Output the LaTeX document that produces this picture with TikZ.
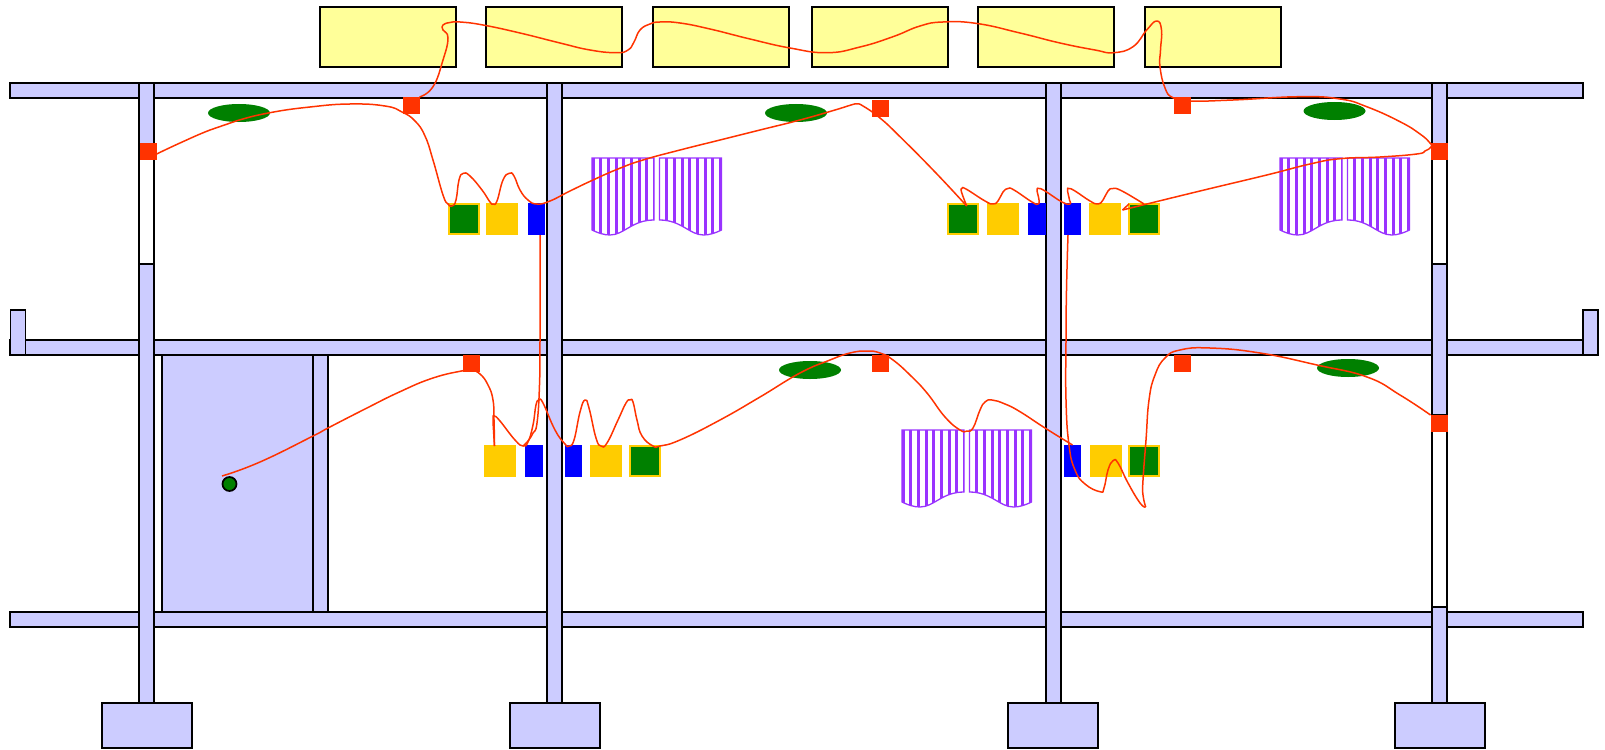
\documentclass[tikz,border=0pt]{standalone}
\usepackage{amsmath}
\usepackage{tikz}
\usetikzlibrary{shapes.geometric}
\definecolor{beamblue}{HTML}{CCCCFF}
\definecolor{panelyellow}{HTML}{FFFF99}
\definecolor{boxred}{HTML}{FF3300}
\definecolor{boxgold}{HTML}{FFCC00}
\definecolor{boxgreen}{HTML}{008000}
\definecolor{curtainviolet}{HTML}{9933FF}

\begin{document}
\begin{tikzpicture}[x=0.02cm, y=-0.02cm,
	every node/.style={rectangle, inner sep=0pt, outer sep=0pt},
	dims/.style 2 args={minimum width=#1*0.02cm, minimum height=#2*0.02cm},
	wall/.style={draw=black, line width=0.04cm, fill=beamblue},
	gap/.style={draw=black, line width=0.04cm, fill=white},
	panel/.style={draw=black, line width=0.04cm, fill=panelyellow, dims={136}{60}},
	redbox/.style={fill=boxred, dims={17}{17}},
	goldbox/.style={fill=boxgold, dims={32}{32}},
	bluebox/.style={fill=blue, dims={17.5}{32}},
	greenbox/.style={draw=boxgold, line width=0.04cm, fill=boxgreen, dims={30}{30}},
	lamp/.style={ellipse, fill=boxgreen, dims={62}{18}},
	cable/.style={draw=boxred, line width=0.03cm, line join=round, smooth, tension=0.8}]
	\useasboundingbox (0,0) rectangle (1605,750);
	
	\node[panel] (panel1) at (388,37.5){};
	\node[panel] (panel2) at (554,37.5){};
	\node[panel] (panel3) at (720.5,37.5){};
	\node[panel] (panel4) at (880,37.5){};
	\node[panel] (panel5) at (1046,37.5){};
	\node[panel] (panel6) at (1212.5,37.5){};
	
	\node[wall, dims={1573}{15}] (roof) at (796.5,90.5){};
	\node[wall, dims={1573}{15}] (floor) at (796.5,347.5){};
	\node[wall, dims={1573}{15}] (ground) at (796.5,619.5){};
	\node[wall, dims={15}{45}] (stubl) at (18,332.5){};
	\node[wall, dims={15}{45}] (stubr) at (1590.5,332.5){};
	
	\node[wall, dims={151}{257}] (stairs) at (237,483.5){};
	\node[wall, dims={15}{257}] (stairwall) at (320.5,483.5){};
	
	\node[wall, dims={15}{620}] (col1) at (146,393){};
	\node[wall, dims={15}{620}] (col2) at (554.5,393){};
	\node[wall, dims={15}{620}] (col3) at (1053.5,393){};
	\node[wall, dims={15}{620}] (col4) at (1439.5,393){};
	
	\node[gap, dims={15}{113}] (gap1) at (146,207.5){};
	\node[gap, dims={15}{113}] (gap2) at (1439.5,207.5){};
	\node[gap, dims={15}{192}] (gap3) at (1439.5,511){};
	
	\node[wall, dims={90}{45}] (foot1) at (146.5,725.5){};
	\node[wall, dims={90}{45}] (foot2) at (555,725.5){};
	\node[wall, dims={90}{45}] (foot3) at (1053,725.5){};
	\node[wall, dims={90}{45}] (foot4) at (1439.5,725.5){};
	
	\foreach \cx/\cy in {592/158, 1280/158, 902/430}{
		\foreach \side in {0,1}{
			\begin{scope}[shift={(\cx+\side*129.5,\cy)}, xscale=1-2*\side]
				\begin{scope}
					\clip (0,0) -- (0,72) .. controls (6,75) and (12,77) .. (18,77) .. controls (32,77) and (40,62) .. (62,62) -- (62,0) -- cycle;
					\foreach \i in {0,...,8}
						\fill[curtainviolet] (\i*7.7-0.5,0) rectangle +(3,80);
				\end{scope}
				\draw[curtainviolet, line width=0.026cm] (0,0) -- (0,72) .. controls (6,75) and (12,77) .. (18,77) .. controls (32,77) and (40,62) .. (62,62) -- (62,0) -- cycle;
			\end{scope}
		}
	}
	
	\node[lamp] (lamp1) at (239,113){};
	\node[lamp] (lamp2) at (796,113){};
	\node[lamp] (lamp3) at (1334.5,111){};
	\node[lamp] (lamp4) at (810,370){};
	\node[lamp] (lamp5) at (1348,368){};
	
	\node[greenbox] (tgreen1) at (464,219){};
	\node[goldbox] (tgold1) at (502,219){};
	\node[bluebox] (tblue1) at (536.5,219){};
	\node[greenbox] (tgreen2) at (963,219){};
	\node[goldbox] (tgold2) at (1002.5,219){};
	\node[bluebox] (tblue2) at (1037,219){};
	\node[bluebox] (tblue3) at (1072.5,219){};
	\node[goldbox] (tgold3) at (1105,219){};
	\node[greenbox] (tgreen3) at (1144,219){};
	
	\node[goldbox] (lgold1) at (500,461){};
	\node[bluebox] (lblue1) at (534,461){};
	\node[bluebox] (lblue2) at (573.5,461){};
	\node[goldbox] (lgold2) at (606,461){};
	\node[greenbox] (lgreen1) at (645,461){};
	\node[bluebox] (lblue3) at (1072.5,461){};
	\node[goldbox] (lgold3) at (1106,461){};
	\node[greenbox] (lgreen2) at (1144,461){};
	
	\node[circle, draw=black, line width=0.034cm, fill=boxgreen, dims={14}{14}] (dot) at (229.5,484){};
	
	\node[redbox] (red1) at (411,105.5){};
	\node[redbox] (red2) at (880.5,108.5){};
	\node[redbox] (red3) at (1182,106){};
	\node[redbox] (red4) at (148,151){};
	\node[redbox] (red5) at (1439,151){};
	\node[redbox] (red6) at (471.5,363){};
	\node[redbox] (red7) at (880,363){};
	\node[redbox] (red8) at (1182,363){};
	\node[redbox] (red9) at (1439,423.5){};
	
	\coordinate (tip1) at (966.7,206);
	\coordinate (tip2) at (1122.5,210);
	\coordinate (tip3) at (1145.7,507);
	\coordinate (tip4) at (494.5,446);
	\coordinate (start) at (222,476);
	\coordinate (riser1) at (540,235);
	\coordinate (riser2) at (1068,235);
	
	\draw[cable] plot coordinates {(red4.-20) (180,143) (210,130) (237,120.7) (270,112.7) (310,107) (350,104) (385,106) (402,112) (415,121) (425,136) (433,160) (443,195) (448,204) (452,206) (456,200) (459,180) (463.3,173.3) (470,176) (482,190) (490,202) (493.3,204) (497,201) (503,180) (509.3,173.3) (514,176) (520,190) (528,200) (537,204) (550,201) (570,191) (593,180) (618,169) (643,160) (680,150) (720,140) (760,130) (800,120) (835,110) (851,105) (857,104) (863,106) (880,118) (900,136.7) (935,172) (tip1)};
	\draw[cable] plot coordinates {(tip1) (961.5,192) (962,188.5) (966,189) (985,201) (993,204) (998,201) (1003,192) (1008,188.5) (1014,190) (1032,202) (1038,204) (1039,200) (1037,190) (1039,188.5) (1045,191) (1062,202) (1070,204) (1069.5,200) (1067.5,190) (1069,188.5) (1075,191) (1090,201) (1098,204) (1103,200) (1108,191) (1113,188.5) (1122,191) (tgreen3.north)};
	\draw[cable] plot coordinates {(red1.north east) (433,86.7) (443,60) (448,38) (443,30) (443,25) (450,22.5) (460,22) (483,25) (520,33) (560,43) (590,50) (616,52.7) (628,50) (634,42) (640,30) (650,24) (660,22) (680,23) (710,29) (750,39) (790,48) (827,52.7) (860,47) (893,36.7) (920,26) (943,22) (977,23.5) (1020,33) (1060,43) (1095,50) (1113.3,52.7) (1133,46.7) (1146.7,30) (1156.7,21) (1161.5,30) (1160.5,50) (1160,66.7) (1165,88) (1173,97.7) (1190,101) (1233,100) (1300,96.7) (1340,99) (1366.7,106.7) (1400,121.7) (1420,134) (1430,143) (1431,147) (1425,151) (1416.7,154) (1380,157) (1340,158.7) (1310,164) (1266.7,175) (1200,191) (tip2)};
	\draw[cable] (tip2) -- (tgreen3.north west);
	
	\draw[cable] plot coordinates {(start) (260,462) (313,436) (328,428) (365,409) (400,391.7) (433,378) (463,370.7) (471,370) (480,374) (488,385) (493,400) (494,420) (tip4)};
	\draw[cable] plot coordinates {(tip4) (493.5,430) (493,418) (494.5,416) (500,421) (515,440) (523,446) (528,442) (533,425) (536,405) (539,400) (543,403) (555,430) (565,444) (569,446) (574,440) (580,412) (585,400) (589,408) (596,438) (601,446) (607,443) (618,420) (626,403) (630,400) (633,402) (637,420) (642,436) (653,446) (660,446) (680,440) (720,420) (760,397) (800,373) (830,360) (850,353) (866.7,351) (880,353) (893,360) (910,375) (927,393) (945,417) (960,430) (967,431) (973,428) (980,410) (985,402) (992,400) (1005,404) (1020,411.7) (1045,428) (lblue3.north)};
	\draw[cable] plot coordinates {(riser1) (540,280) (540,340) (539.5,385) (537,423) (533,433) (528,441) (523,446)};
	\draw[cable] plot coordinates {(riser2) (1066.5,290) (1066,340) (1066,400) (1069,445) (1075,470) (1085,484) (1100,491.7) (1104,488) (1108,470) (1113,460.7) (1118,463) (1128,483) (1140,503) (tip3)};
	\draw[cable] plot coordinates {(tip3) (1143,495) (1143,480) (1146,440) (1149,400) (1155,375) (1165,358) (1180,350) (1210,348) (1260,353) (1317,365) (1367,377) (1400,395) (red9.north west)};
\end{tikzpicture}
\end{document}
